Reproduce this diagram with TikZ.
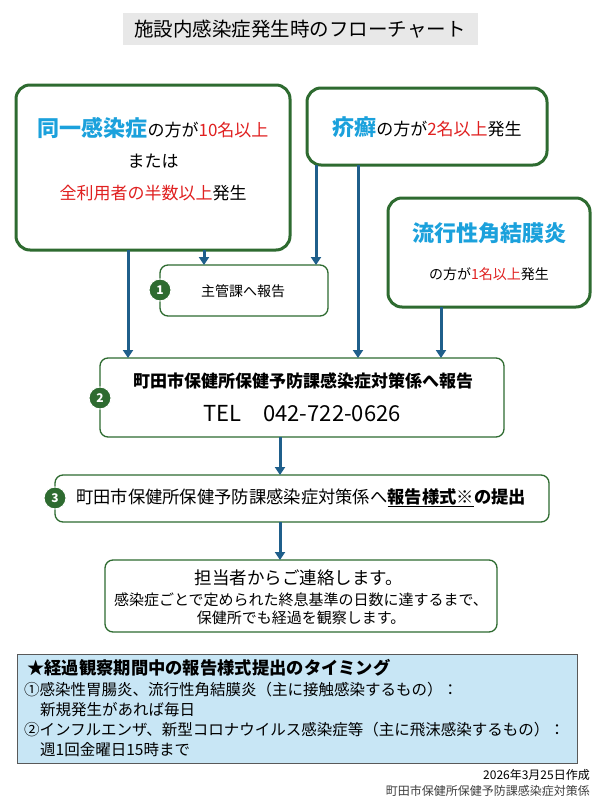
\documentclass[tikz,border=0pt]{standalone}
\usepackage{fontspec}
\setmainfont{Noto Sans CJK JP}
\usetikzlibrary{arrows.meta}
\definecolor{gb}{HTML}{2E6B30}
\definecolor{ar}{HTML}{1F5F8B}
\definecolor{cy}{HTML}{1BA1DC}
\definecolor{rd}{HTML}{E02020}
\definecolor{lb}{HTML}{C8E6F5}
\begin{document}
\begin{tikzpicture}[x=1pt,y=-1pt,
 big/.style={draw=gb,line width=3pt,rounded corners=14pt,fill=white},
 sm/.style={draw=gb,line width=1.3pt,rounded corners=8pt,fill=white},
 num/.style={circle,fill=gb,draw=white,line width=1pt,minimum size=22pt,inner sep=0pt,text=white,font=\bfseries\fontsize{12}{12}\selectfont},
 arr/.style={draw=ar,line width=3pt,-{Triangle[length=8pt,width=10pt]}},
 t/.style={inner sep=0pt,font=\fontsize{14}{16}\selectfont}]
\useasboundingbox (0,0) rectangle (600,800);
\fill[white] (0,0) rectangle (600,800);
% title
\node[fill=black!9,minimum width=355pt,minimum height=32pt,font=\fontsize{19.5}{21}\selectfont] (title) at (300,29) {施設内感染症発生時のフローチャート};
% boxes
\draw[big] (16,85) rectangle (290,250);
\node[t,font=\fontsize{17}{19}\selectfont] (a1) at (153,128) {\textcolor{cy}{\bfseries\fontsize{22}{24}\selectfont 同一感染症}の方が\textcolor{rd}{10名以上}};
\node[t,font=\fontsize{17}{19}\selectfont] (a2) at (153,161) {または};
\node[t,font=\fontsize{17}{19}\selectfont] (a3) at (153,193) {\textcolor{rd}{全利用者の半数以上}発生};
\draw[big] (307,88) rectangle (547,165);
\node[t,font=\fontsize{17}{19}\selectfont] (b1) at (427,127) {\textcolor{cy}{\bfseries\fontsize{22}{24}\selectfont 疥癬}の方が\textcolor{rd}{2名以上}発生};
\draw[big] (388,198) rectangle (590,307);
\node[t] (c1) at (489,233) {\textcolor{cy}{\bfseries\fontsize{22}{24}\selectfont 流行性角結膜炎}};
\node[t] (c2) at (489,274) {の方が\textcolor{rd}{1名以上}発生};
\draw[sm] (160,265) rectangle (328,316);
\node[t] (s1) at (243,291) {主管課へ報告};
\draw[sm] (100,358) rectangle (504,437);
\node[t,font=\bfseries\fontsize{17}{19}\selectfont] (s2a) at (303,381) {町田市保健所保健予防課感染症対策係へ報告};
\node[t,font=\fontsize{22}{24}\selectfont] (s2b) at (302,414) {TEL\quad 042-722-0626};
\draw[sm] (55,475) rectangle (549,522);
\node[t,font=\fontsize{17.3}{19}\selectfont] (s3) at (301,498) {町田市保健所保健予防課感染症対策係へ\textbf{\underline{報告様式※}の提出}};
\draw[sm] (105,560) rectangle (497,632);
\node[t,font=\fontsize{17.5}{19}\selectfont] (s4a) at (299,578) {担当者からご連絡します。};
\node[t,font=\fontsize{15}{17}\selectfont] (s4b) at (301,600) {感染症ごとで定められた終息基準の日数に達するまで、};
\node[t,font=\fontsize{15}{17}\selectfont] (s4c) at (301,618) {保健所でも経過を観察します。};
\node[num] (n1) at (160,290) {1};
\node[num] (n2) at (100,398) {2};
\node[num] (n3) at (55,498) {3};
% arrows
\coordinate (pa1) at (128,250); \coordinate (qa1) at (128,358);
\coordinate (pa2) at (204,250); \coordinate (qa2) at (204,265);
\coordinate (pb1) at (316,165); \coordinate (qb1) at (316,265);
\coordinate (pb2) at (358,165); \coordinate (qb2) at (358,358);
\coordinate (pc) at (441,307); \coordinate (qc) at (441,358);
\coordinate (p2) at (280,437); \coordinate (q2) at (280,475);
\coordinate (p3) at (280,522); \coordinate (q3) at (280,560);
\foreach \a/\b in {pa1/qa1,pa2/qa2,pb1/qb1,pb2/qb2,pc/qc,p2/q2,p3/q3}
  \draw[arr] (\a) -- (\b);
% info box
\draw[fill=lb,draw=black!65,line width=1pt] (17,654) rectangle (577,763);
\node[anchor=west,t,font=\bfseries\fontsize{17.3}{19}\selectfont] (i0) at (27,668) {★経過観察期間中の報告様式提出のタイミング};
\node[anchor=west,t,font=\fontsize{15.5}{17}\selectfont] (i1) at (24,690) {①感染性胃腸炎、流行性角結膜炎（主に接触感染するもの）：};
\node[anchor=west,t,font=\fontsize{15.5}{17}\selectfont] (i2) at (40,710) {新規発生があれば毎日};
\node[anchor=west,t,font=\fontsize{15.5}{17}\selectfont] (i3) at (24,730) {②インフルエンザ、新型コロナウイルス感染症等（主に飛沫感染するもの）：};
\node[anchor=west,t,font=\fontsize{15.5}{17}\selectfont] (i4) at (40,750) {週1回金曜日15時まで};
\node[anchor=east,t,font=\fontsize{12}{13}\selectfont] (f1) at (590,775) {2026年3月25日作成};
\node[anchor=east,t,font=\fontsize{12}{13}\selectfont,text=black!75] (f2) at (590,791) {町田市保健所保健予防課感染症対策係};
\end{tikzpicture}
\end{document}
